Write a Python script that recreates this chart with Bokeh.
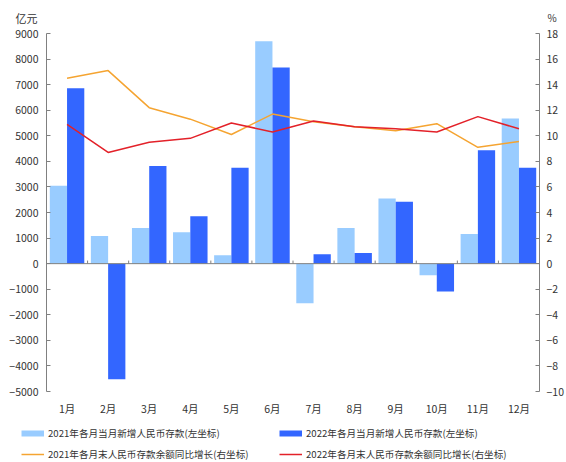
import math
from bokeh.plotting import figure
from bokeh.models import (Range1d, LinearAxis, FixedTicker, Span, Legend, LegendItem,
                          Label, ColumnDataSource, FactorRange)
from bokeh.layouts import column, row
from bokeh.transform import dodge
from bokeh.embed import file_html
from bokeh.resources import INLINE

months = ["1月", "2月", "3月", "4月", "5月", "6月", "7月", "8月", "9月", "10月", "11月", "12月"]
dep2021 = [3050, 1080, 1390, 1230, 330, 8700, -1550, 1390, 2550, -450, 1160, 5680]
dep2022 = [6860, -4520, 3820, 1850, 3750, 7670, 370, 420, 2420, -1090, 4430, 3750]
yoy2021 = [14.5, 15.1, 12.2, 11.3, 10.1, 11.7, 11.1, 10.7, 10.4, 10.95, 9.1, 9.55]
yoy2022 = [10.9, 8.7, 9.5, 9.8, 11.0, 10.3, 11.15, 10.7, 10.55, 10.3, 11.5, 10.55]
left_ticks = list(range(-5000, 9001, 1000))
right_ticks = list(range(-10, 19, 2))
left_unit = "亿元"
right_unit = "%"

labels = {
    "b21": "2021年各月当月新增人民币存款(左坐标)",
    "b22": "2022年各月当月新增人民币存款(左坐标)",
    "l21": "2021年各月末人民币存款余额同比增长(右坐标)",
    "l22": "2022年各月末人民币存款余额同比增长(右坐标)",
}

FONT = "Noto Sans CJK SC"
TXT = "#333333"
AX = "#808080"
C_LB = "#99CCFF"
C_DB = "#3366FF"
C_OR = "#F5A431"
C_RD = "#E32129"
W = 566


def blank(height):
    f = figure(width=W, height=height, x_range=Range1d(0, 1), y_range=Range1d(0, 1),
               x_axis_type=None, y_axis_type=None, output_backend="svg",
               toolbar_location=None, min_border=0, min_border_left=0,
               min_border_right=0, min_border_top=0, min_border_bottom=0)
    f.outline_line_color = None
    f.grid.visible = False
    return f


# ---------- header with unit labels ----------
head = blank(25)
head.add_layout(Label(x=15, y=8, x_units="screen", y_units="screen",
                      text=left_unit, text_font=FONT, text_font_size="11px", text_color=TXT,
                      text_baseline="middle", text_align="left"))
head.add_layout(Label(x=547, y=8, x_units="screen", y_units="screen",
                      text=right_unit, text_font=FONT, text_font_size="10px", text_color=TXT,
                      text_baseline="middle", text_align="left"))

# ---------- main chart ----------
src = ColumnDataSource(dict(m=months, d21=dep2021, d22=dep2022, y21=yoy2021, y22=yoy2022))
tsrc = ColumnDataSource(dict(m=months[:-1], y0=[0] * 11, y1=[120] * 11))

p = figure(width=W, height=393, x_range=FactorRange(*months, range_padding=0),
           y_range=Range1d(-5000, 9000), output_backend="svg", toolbar_location=None,
           min_border_left=46, min_border_top=8, min_border_right=26,
           min_border_bottom=24)
p.outline_line_color = None
p.grid.visible = False
p.extra_y_ranges = {"pct": Range1d(-10, 18)}

ya = p.yaxis[0]
ya.ticker = FixedTicker(ticks=left_ticks)
ya.axis_line_color = AX
ya.major_tick_line_color = AX
ya.major_tick_in = 4
ya.major_tick_out = 0
ya.minor_tick_line_color = None
ya.major_label_standoff = 8
ya.major_label_text_font = FONT
ya.major_label_text_font_size = "10.5px"
ya.major_label_text_color = TXT

ra = LinearAxis(y_range_name="pct", ticker=FixedTicker(ticks=right_ticks))
ra.axis_line_color = AX
ra.major_tick_line_color = AX
ra.major_tick_in = 4
ra.major_tick_out = 0
ra.minor_tick_line_color = None
ra.major_label_standoff = 7
ra.major_label_text_font = FONT
ra.major_label_text_font_size = "10.5px"
ra.major_label_text_color = TXT
p.add_layout(ra, "right")

xa = p.xaxis[0]
xa.axis_line_color = None
xa.major_tick_line_color = None
xa.major_tick_out = 0
xa.major_tick_in = 0
xa.major_label_standoff = 9
xa.major_label_text_font = FONT
xa.major_label_text_font_size = "10.5px"
xa.major_label_text_color = TXT

p.add_layout(Span(location=0, dimension="width", line_color=AX, line_width=1))
p.segment(x0=dodge("m", 0.5, range=p.x_range), x1=dodge("m", 0.5, range=p.x_range),
          y0="y0", y1="y1", source=tsrc, line_color=AX, line_width=1)

p.vbar(x=dodge("m", -0.21, range=p.x_range), top="d21", width=0.42, source=src,
       fill_color=C_LB, line_color=None)
p.vbar(x=dodge("m", 0.21, range=p.x_range), top="d22", width=0.42, source=src,
       fill_color=C_DB, line_color=None)
p.line(x="m", y="y21", source=src, y_range_name="pct", line_color=C_OR, line_width=1.5)
p.line(x="m", y="y22", source=src, y_range_name="pct", line_color=C_RD, line_width=1.5)

# ---------- legend panel ----------
leg = blank(44)
nan_pt = dict(x=[math.nan], y=[math.nan])
k1 = leg.line(x="x", y="y", source=ColumnDataSource(nan_pt), line_color=C_LB, line_width=6)
k2 = leg.line(x="x", y="y", source=ColumnDataSource(nan_pt), line_color=C_DB, line_width=6)
k3 = leg.line(x="x", y="y", source=ColumnDataSource(nan_pt), line_color=C_OR, line_width=1.5)
k4 = leg.line(x="x", y="y", source=ColumnDataSource(nan_pt), line_color=C_RD, line_width=1.5)


def make_legend(items, loc):
    return Legend(items=[LegendItem(label=t, renderers=[r]) for t, r in items],
                  orientation="horizontal", location=loc,
                  label_text_font=FONT, label_text_font_size="9.6px", label_text_color=TXT,
                  glyph_width=23, glyph_height=12, label_height=12, label_width=231,
                  label_standoff=4, spacing=0, padding=0, margin=0,
                  border_line_color=None, background_fill_alpha=0)


leg.add_layout(make_legend([(labels["b21"], k1), (labels["b22"], k2)], (21, 22)))
leg.add_layout(make_legend([(labels["l21"], k3), (labels["l22"], k4)], (21, 1)))

layout = column(head, row(p), leg, spacing=0)
open("out.html", "w").write(file_html(layout, INLINE))
